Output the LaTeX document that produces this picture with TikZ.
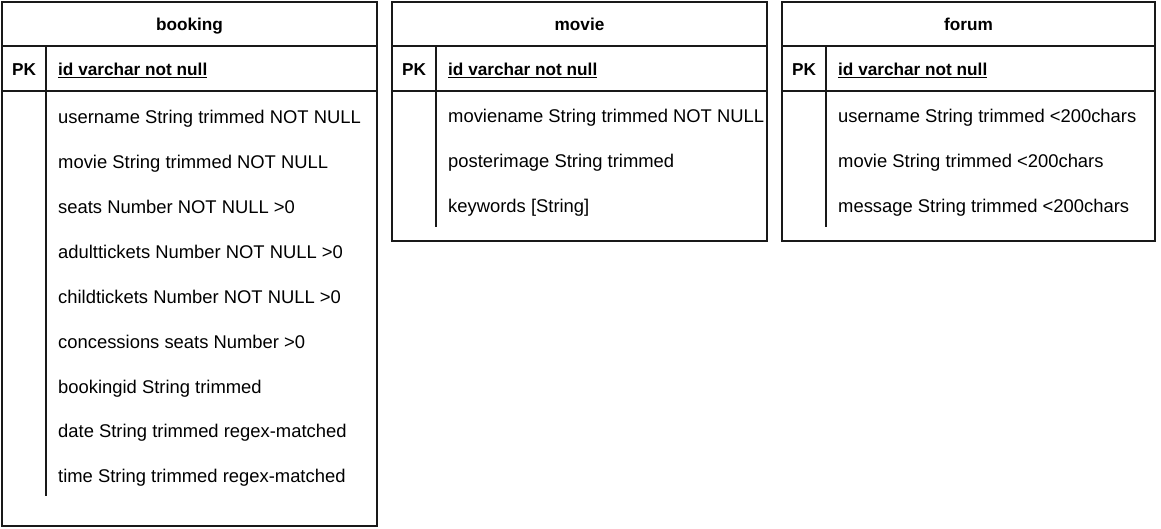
\documentclass[tikz,border=0pt]{standalone}
\usepackage{fontspec}
\setmainfont{Liberation Sans}
\usetikzlibrary{positioning}
\definecolor{framegray}{RGB}{25,25,25}

\begin{document}
\begin{tikzpicture}[
    x=1pt, y=-1pt,
    tablebox/.style={draw=framegray, line width=1.2pt},
    rule/.style={draw=framegray, line width=1.1pt},
    boldtext/.style={font=\fontsize{17.2}{20}\selectfont\bfseries, inner sep=0pt, text height=16.4pt, text depth=3.6pt},
    title/.style={boldtext},
    pkey/.style={boldtext},
    idfield/.style={boldtext, anchor=west},
    field/.style={font=\fontsize{18.4}{22}\selectfont, anchor=west, inner sep=0pt, text height=17.2pt, text depth=3.9pt}
]
    \useasboundingbox (0,0) rectangle (1161,528);

    % Booking table
    \draw[tablebox] (2,2) rectangle (377,526);
    \draw[rule] (2,46) -- (377,46);
    \draw[rule] (2,91) -- (377,91);
    \draw[rule] (46,46) -- (46,496);
    \node[title] (bktitle) at (189.5,24) {booking};
    \node[pkey] (bkpk) at (24,69) {PK};
    \node[idfield] (bkid) at (58,69) {\underline{id varchar not null}};
    \node[field] (bkuser) at (58,117) {username String trimmed NOT NULL};
    \node[field] (bkmovie) at (58,162) {movie String trimmed NOT NULL};
    \node[field] (bkseats) at (58,207) {seats Number NOT NULL >0};
    \node[field] (bkadult) at (58,252) {adulttickets Number NOT NULL >0};
    \node[field] (bkchild) at (58,297) {childtickets Number NOT NULL >0};
    \node[field] (bkconc) at (58,342) {concessions seats Number >0};
    \node[field] (bkbid) at (58,387) {bookingid String trimmed};
    \node[field] (bkdate) at (58,431) {date String trimmed regex-matched};
    \node[field] (bktime) at (58,476) {time String trimmed regex-matched};

    % Movie table
    \draw[tablebox] (392,2) rectangle (767,241);
    \draw[rule] (392,46) -- (767,46);
    \draw[rule] (392,91) -- (767,91);
    \draw[rule] (436,46) -- (436,227);
    \node[title] (mvtitle) at (579.5,24) {movie};
    \node[pkey] (mvpk) at (414,69) {PK};
    \node[idfield] (mvid) at (448,69) {\underline{id varchar not null}};
    \node[field] (mvname) at (448,116) {moviename String trimmed NOT NULL};
    \node[field] (mvposter) at (448,161) {posterimage String trimmed};
    \node[field] (mvkeys) at (448,206) {keywords [String]};

    % Forum table
    \draw[tablebox] (782,2) rectangle (1155,241);
    \draw[rule] (782,46) -- (1155,46);
    \draw[rule] (782,91) -- (1155,91);
    \draw[rule] (826,46) -- (826,227);
    \node[title] (fmtitle) at (968.5,24) {forum};
    \node[pkey] (fmpk) at (804,69) {PK};
    \node[idfield] (fmid) at (838,69) {\underline{id varchar not null}};
    \node[field] (fmuser) at (838,116) {username String trimmed <200chars};
    \node[field] (fmmovie) at (838,161) {movie String trimmed <200chars};
    \node[field] (fmmsg) at (838,206) {message String trimmed <200chars};
\end{tikzpicture}
\end{document}
